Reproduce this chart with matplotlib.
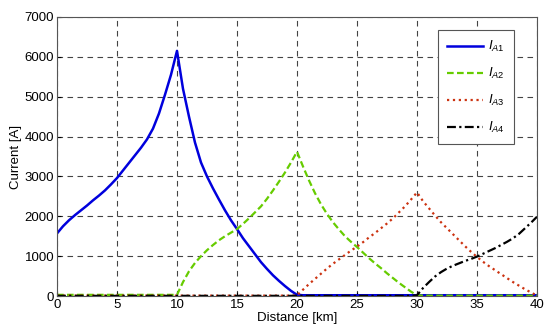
import matplotlib
matplotlib.use('Agg')
import matplotlib.pyplot as plt

plt.rcParams['font.family'] = ['Liberation Sans', 'DejaVu Sans']
plt.rcParams['mathtext.fontset'] = 'custom'
plt.rcParams['mathtext.it'] = 'Liberation Sans:italic'
plt.rcParams['mathtext.rm'] = 'Liberation Sans'

# distance in km, half-km steps
distance = [0, 0.5, 1, 1.5, 2, 2.5, 3, 3.5, 4, 4.5, 5, 5.5, 6, 6.5, 7, 7.5, 8, 8.5, 9, 9.5, 10,
            10.5, 11, 11.5, 12, 12.5, 13, 13.5, 14, 14.5, 15, 15.5, 16, 16.5, 17, 17.5, 18, 18.5, 19, 19.5, 20,
            20.5, 21, 21.5, 22, 22.5, 23, 23.5, 24, 24.5, 25, 25.5, 26, 26.5, 27, 27.5, 28, 28.5, 29, 29.5, 30,
            30.5, 31, 31.5, 32, 32.5, 33, 33.5, 34, 34.5, 35, 35.5, 36, 36.5, 37, 37.5, 38, 38.5, 39, 39.5, 40]

i_a1 = [1570, 1750, 1900, 2030, 2150, 2270, 2400, 2520, 2650, 2800, 2960,
        3150, 3340, 3530, 3720, 3930, 4200, 4580, 5050, 5550, 6150,
        5200, 4500, 3850, 3350, 3000, 2700, 2420, 2150, 1900, 1680,
        1450, 1250, 1050, 850, 680, 520, 380, 250, 130, 30,
        20, 20, 20, 20, 20, 20, 20, 20, 20, 20,
        20, 20, 20, 20, 20, 20, 20, 20, 20, 20,
        20, 20, 20, 20, 20, 20, 20, 20, 20, 20,
        20, 20, 20, 20, 20, 20, 20, 20, 20, 20]
i_a2 = [30, 30, 30, 30, 30, 30, 30, 30, 30, 30, 30,
        30, 30, 30, 30, 30, 30, 30, 30, 30, 30,
        350, 620, 830, 1000, 1150, 1280, 1400, 1500, 1590, 1680,
        1810, 1950, 2100, 2250, 2440, 2650, 2870, 3100, 3350, 3620,
        3250, 2900, 2580, 2300, 2060, 1850, 1670, 1500, 1360, 1230,
        1090, 950, 820, 700, 570, 450, 330, 220, 110, 20,
        10, 10, 10, 10, 10, 10, 10, 10, 10, 10,
        10, 10, 10, 10, 10, 10, 10, 10, 10, 10]
i_a3 = [10, 10, 10, 10, 10, 10, 10, 10, 10, 10, 10,
        10, 10, 10, 10, 10, 10, 10, 10, 10, 10,
        10, 10, 10, 10, 10, 10, 10, 10, 10, 10,
        10, 10, 10, 10, 10, 10, 10, 10, 10, 20,
        160, 300, 430, 560, 690, 810, 920, 1030, 1140, 1240,
        1350, 1470, 1580, 1700, 1820, 1950, 2100, 2250, 2420, 2600,
        2380, 2200, 2020, 1850, 1700, 1550, 1400, 1250, 1110, 980,
        860, 750, 650, 550, 450, 350, 260, 170, 90, 10]
i_a4 = [5, 5, 5, 5, 5, 5, 5, 5, 5, 5, 5,
        5, 5, 5, 5, 5, 5, 5, 5, 5, 5,
        5, 5, 5, 5, 5, 5, 5, 5, 5, 5,
        5, 5, 5, 5, 5, 5, 5, 5, 5, 5,
        5, 5, 5, 5, 5, 5, 5, 5, 5, 5,
        5, 5, 5, 5, 5, 5, 5, 5, 5, 20,
        200, 350, 490, 600, 690, 760, 820, 880, 930, 990,
        1060, 1130, 1200, 1280, 1360, 1450, 1560, 1700, 1840, 1990]

labels = ['$I_{A1}$', '$I_{A2}$', '$I_{A3}$', '$I_{A4}$']

fig = plt.figure(figsize=(5.5, 3.33), dpi=100)
ax = fig.add_axes([0.1036, 0.111, 0.8728, 0.838])

ax.plot(distance, i_a1, color='#0000dd', lw=1.8, ls='-', label=labels[0])
ax.plot(distance, i_a2, color='#66cc00', lw=1.6, ls='--', dashes=(3, 1.5), label=labels[1])
ax.plot(distance, i_a3, color='#cc3311', lw=1.6, ls=':', label=labels[2])
ax.plot(distance, i_a4, color='black', lw=1.6, ls='-.', dashes=(4, 1.5, 1, 1.5), label=labels[3])

ax.set_xlim(0, 40)
ax.set_ylim(0, 7000)
ax.set_xticks(range(0, 41, 5))
ax.set_yticks(range(0, 7001, 1000))
ax.grid(True, ls=(0, (5, 4)), color='#444444', lw=0.8)
ax.tick_params(direction='in', labelsize=9.5, length=3, pad=2)
for s in ax.spines.values():
    s.set_color('#555555')
ax.set_xlabel('Distance [km]', fontsize=9.5, labelpad=1)
ax.set_ylabel('Current [A]', fontsize=9.5, labelpad=2)

leg = ax.legend(loc='upper right', bbox_to_anchor=(0.966, 0.977), fontsize=9.5,
                fancybox=False, framealpha=1, edgecolor='#555555',
                handlelength=2.7, handletextpad=0.4, labelspacing=0.9, borderpad=0.7)
leg.get_frame().set_linewidth(0.8)

fig.savefig('out.png', dpi=100)
